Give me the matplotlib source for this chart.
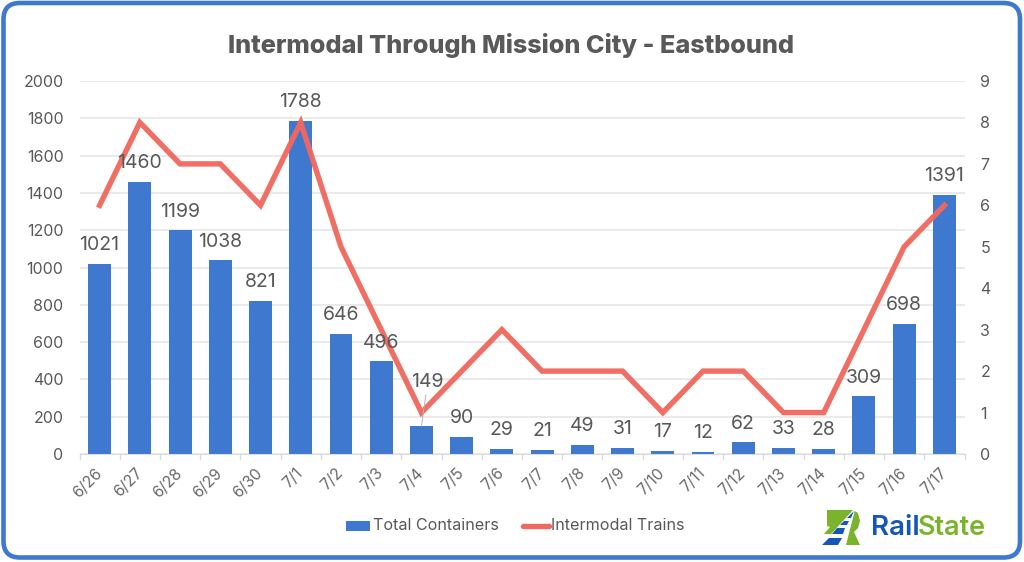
"""
Intermodal through Mission City - eastbound, bars plus train count line
"""
import matplotlib
matplotlib.use('Agg')
import matplotlib.pyplot as plt
from matplotlib.patches import FancyBboxPatch, Polygon, Rectangle
from matplotlib.lines import Line2D

dates = ['6/26', '6/27', '6/28', '6/29', '6/30', '7/1', '7/2', '7/3', '7/4', '7/5', '7/6',
         '7/7', '7/8', '7/9', '7/10', '7/11', '7/12', '7/13', '7/14', '7/15', '7/16', '7/17']
containers = [1021, 1460, 1199, 1038, 821, 1788, 646, 496, 149, 90, 29,
              21, 49, 31, 17, 12, 62, 33, 28, 309, 698, 1391]
trains = [6, 8, 7, 7, 6, 8, 5, 3, 1, 2, 3, 2, 2, 2, 1, 2, 2, 1, 1, 3, 5, 6]

W, H = 1024, 562
BLUE = '#3f78cf'
RED = '#f0695f'
GRAY = '#595959'
FONT = 'Inter'

plt.rcParams['font.family'] = FONT

fig = plt.figure(figsize=(W / 100, H / 100), dpi=100)


def fx(x):
    return x / W


def fy(y):
    return 1 - y / H


def logo_poly(points, color):
    fig.add_artist(Polygon([(fx(px), fy(py)) for px, py in points], transform=fig.transFigure, fc=color, ec='none'))


# outer rounded border, kept behind the axes
fig.add_artist(FancyBboxPatch((fx(3.5), fy(557.5)), fx(1016.5), 554.5 / H, transform=fig.transFigure,
                              boxstyle='round,pad=0,rounding_size=0.016', mutation_aspect=W / H,
                              fc='white', ec=BLUE, lw=3.3, zorder=-5))

ax = fig.add_axes([fx(79.5), fy(454), fx(885), 373 / H])
ax.patch.set_alpha(0)
x = list(range(len(dates)))

ax.bar(x, containers, width=0.57, color=BLUE, zorder=2)
ax.set_xlim(-0.5, len(dates) - 0.5)
ax.set_ylim(0, 2000)
ax.set_yticks(range(0, 2001, 200))
ax.grid(axis='y', color='#e4e4e4', lw=1.1, zorder=0)
ax.set_axisbelow(True)
for s in ax.spines.values():
    s.set_visible(False)
ax.spines['bottom'].set_visible(True)
ax.spines['bottom'].set_color('#dcdcdc')
ax.tick_params(axis='y', length=0, labelsize=11.5, labelcolor=GRAY, pad=11.5)
ax.set_xticks(x)
ax.set_xticklabels(dates, rotation=45, ha='right', va='center', rotation_mode='anchor',
                   fontsize=11.3, color='#6a6a6a')
ax.tick_params(axis='x', length=0, pad=12)
for b in range(len(dates) + 1):
    ax.plot([b - 0.5, b - 0.5], [0, -0.013], transform=ax.get_xaxis_transform(), color='#dcdcdc', lw=1, clip_on=False)

ax2 = ax.twinx()
ax2.plot(x, trains, color=RED, lw=3.9, alpha=0.97, solid_joinstyle='miter', zorder=5)
ax2.set_ylim(0, 9)
ax2.set_yticks(range(0, 10))
for s in ax2.spines.values():
    s.set_visible(False)
ax2.tick_params(axis='y', length=0, labelsize=11.5, labelcolor=GRAY, pad=11.5)

# value labels sit above bars, the 7/4 one is pulled up with a leader line
for i, v in enumerate(containers):
    if dates[i] == '7/4':
        ax2.annotate(str(v), xy=(i, v / 2000 * 9), xytext=(4.5, 32), textcoords='offset points',
                     ha='center', va='center', fontsize=14, color=GRAY, zorder=6,
                     arrowprops=dict(arrowstyle='-', color='#b5b5b5', lw=0.7, shrinkA=1, shrinkB=0))
        continue
    ax2.annotate(str(v), xy=(i, v / 2000 * 9), xytext=(0, 13.5), textcoords='offset points',
                 ha='center', va='center', fontsize=14, color=GRAY, zorder=6)

fig.text(fx(510.5), fy(46), 'Intermodal Through Mission City - Eastbound', ha='center', va='center',
         fontsize=18.2, fontweight='heavy', color=GRAY)

# legend drawn by hand to land where the original has it
fig.add_artist(Rectangle((fx(346), fy(531)), fx(24), 10 / H, transform=fig.transFigure, fc=BLUE, ec='none'))
fig.text(fx(373), fy(525.5), 'Total Containers', ha='left', va='center', fontsize=11.6, color=GRAY)
fig.add_artist(Line2D([fx(523), fx(549)], [fy(526), fy(526)], transform=fig.transFigure, color=RED, lw=3.9,
                      solid_capstyle='round'))
fig.text(fx(551), fy(525.5), 'Intermodal Trains', ha='left', va='center', fontsize=11.6, color=GRAY)

# RailState logo mark
GREEN = '#7ab42d'
LOGO_BLUE = '#1457b8'
logo_poly([(827, 510), (853, 510), (858, 513), (860, 521), (858, 528), (854, 532), (860, 545), (843, 545),
           (837, 534), (824, 534), (830, 527), (827, 526)], GREEN)
logo_poly([(853, 510), (855, 510), (846, 545), (821, 545)], 'white')
logo_poly([(822, 545), (838, 545), (842, 538), (829, 538)], LOGO_BLUE)
logo_poly([(832, 534), (843, 534), (845, 528), (837, 528)], LOGO_BLUE)
logo_poly([(840, 525), (847, 525), (849, 521), (844, 521)], LOGO_BLUE)
logo_poly([(847, 518), (851, 518), (854, 511)], LOGO_BLUE)
fig.text(fx(871), fy(528), 'Rail', ha='left', va='center', fontsize=20, fontweight='semibold', color=LOGO_BLUE)
fig.text(fx(918), fy(528), 'State', ha='left', va='center', fontsize=19.5, fontweight='semibold', color=GREEN)

fig.savefig('out.png', dpi=100)
